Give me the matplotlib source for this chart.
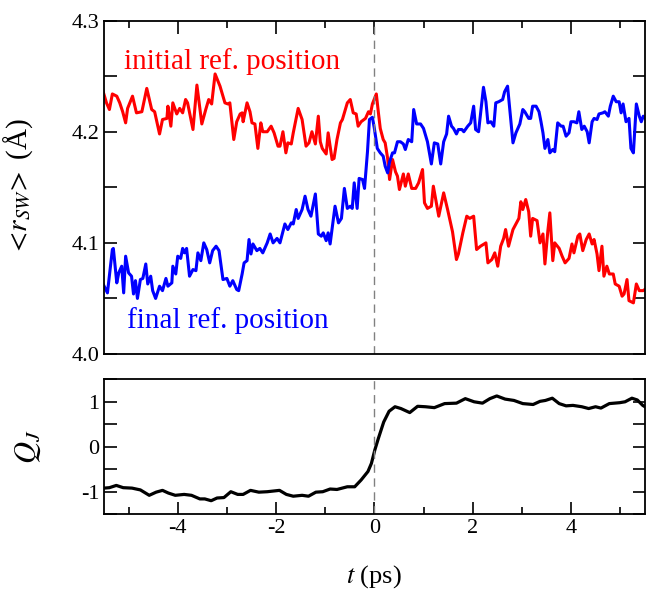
import matplotlib.pyplot as plt
from matplotlib.ticker import MultipleLocator

plt.rcParams['font.family'] = ['Liberation Serif', 'DejaVu Serif']
plt.rcParams['mathtext.fontset'] = 'stix'
plt.rcParams['axes.unicode_minus'] = False

# red curve: initial reference position
t_red = [-5.53, -5.45, -5.39, -5.33, -5.24, -5.18, -5.12, -5.06, -5.02, -4.92,
         -4.84, -4.73, -4.63, -4.53, -4.47, -4.37, -4.31, -4.22, -4.20, -4.14,
         -4.10, -4.02, -3.96, -3.90, -3.84, -3.80, -3.69, -3.61, -3.51, -3.43,
         -3.37, -3.31, -3.24, -3.14, -3.04, -2.98, -2.94, -2.86, -2.80, -2.73,
         -2.69, -2.67, -2.59, -2.53, -2.49, -2.43, -2.37, -2.31, -2.27, -2.18,
         -2.10, -2.04, -1.96, -1.92, -1.86, -1.80, -1.76, -1.69, -1.65, -1.55,
         -1.47, -1.39, -1.33, -1.27, -1.20, -1.14, -1.10, -1.06, -0.98, -0.94,
         -0.86, -0.82, -0.76, -0.69, -0.65, -0.55, -0.49, -0.43, -0.37, -0.33,
         -0.27, -0.18, -0.12, -0.08, -0.04, 0.04, 0.08, 0.12, 0.18, 0.22,
         0.27, 0.31, 0.37, 0.43, 0.47, 0.51, 0.59, 0.63, 0.69, 0.76,
         0.84, 0.90, 0.98, 1.02, 1.08, 1.16, 1.20, 1.31, 1.41, 1.49,
         1.59, 1.67, 1.71, 1.80, 1.88, 1.94, 2.02, 2.08, 2.16, 2.27,
         2.31, 2.39, 2.45, 2.51, 2.57, 2.63, 2.67, 2.73, 2.82, 2.88,
         2.94, 2.98, 3.02, 3.08, 3.14, 3.18, 3.22, 3.31, 3.37, 3.43,
         3.47, 3.53, 3.57, 3.63, 3.67, 3.76, 3.82, 3.88, 3.96, 4.02,
         4.06, 4.14, 4.18, 4.24, 4.31, 4.37, 4.43, 4.47, 4.53, 4.57,
         4.63, 4.67, 4.73, 4.78, 4.86, 4.90, 4.98, 5.04, 5.08, 5.14,
         5.18, 5.27, 5.33, 5.39, 5.47, 5.53]
r_red = [4.238, 4.226, 4.220, 4.234, 4.232, 4.226, 4.218, 4.208, 4.221, 4.232,
         4.217, 4.218, 4.239, 4.220, 4.218, 4.198, 4.211, 4.212, 4.223, 4.205,
         4.226, 4.216, 4.221, 4.217, 4.229, 4.226, 4.202, 4.242, 4.207, 4.220,
         4.229, 4.225, 4.252, 4.241, 4.226, 4.225, 4.226, 4.193, 4.209, 4.216,
         4.217, 4.209, 4.226, 4.218, 4.208, 4.207, 4.185, 4.208, 4.200, 4.200,
         4.205, 4.199, 4.187, 4.187, 4.200, 4.181, 4.190, 4.189, 4.199, 4.221,
         4.211, 4.187, 4.190, 4.200, 4.189, 4.214, 4.191, 4.185, 4.180, 4.199,
         4.175, 4.176, 4.193, 4.208, 4.211, 4.226, 4.229, 4.217, 4.216, 4.205,
         4.209, 4.212, 4.218, 4.216, 4.225, 4.234, 4.218, 4.203, 4.193, 4.190,
         4.176, 4.157, 4.175, 4.164, 4.160, 4.148, 4.162, 4.151, 4.162, 4.149,
         4.149, 4.154, 4.166, 4.136, 4.131, 4.133, 4.151, 4.124, 4.145, 4.130,
         4.110, 4.085, 4.090, 4.109, 4.124, 4.122, 4.124, 4.094, 4.097, 4.100,
         4.082, 4.085, 4.091, 4.079, 4.097, 4.104, 4.112, 4.097, 4.112, 4.117,
         4.122, 4.137, 4.130, 4.139, 4.128, 4.106, 4.122, 4.120, 4.100, 4.108,
         4.081, 4.111, 4.127, 4.084, 4.100, 4.095, 4.088, 4.082, 4.086, 4.099,
         4.091, 4.106, 4.108, 4.093, 4.103, 4.108, 4.099, 4.103, 4.090, 4.075,
         4.097, 4.070, 4.079, 4.072, 4.072, 4.063, 4.061, 4.052, 4.054, 4.067,
         4.048, 4.046, 4.063, 4.057, 4.057, 4.059]

# blue curve: final reference position
t_blue = [-5.53, -5.43, -5.33, -5.31, -5.24, -5.20, -5.14, -5.10, -5.06, -5.00,
          -4.94, -4.90, -4.86, -4.82, -4.76, -4.71, -4.65, -4.61, -4.55, -4.51,
          -4.45, -4.37, -4.31, -4.24, -4.20, -4.12, -4.10, -4.04, -4.00, -3.94,
          -3.90, -3.86, -3.82, -3.76, -3.69, -3.63, -3.59, -3.53, -3.47, -3.41,
          -3.35, -3.29, -3.22, -3.16, -3.08, -3.00, -2.94, -2.88, -2.80, -2.76,
          -2.69, -2.65, -2.59, -2.55, -2.51, -2.47, -2.39, -2.33, -2.27, -2.18,
          -2.12, -2.06, -1.98, -1.92, -1.82, -1.76, -1.69, -1.65, -1.59, -1.55,
          -1.47, -1.41, -1.35, -1.29, -1.20, -1.14, -1.08, -1.04, -0.98, -0.94,
          -0.90, -0.80, -0.73, -0.67, -0.61, -0.55, -0.49, -0.45, -0.41, -0.35,
          -0.31, -0.24, -0.20, -0.14, -0.10, -0.04, 0.00, 0.06, 0.12, 0.18,
          0.22, 0.27, 0.31, 0.37, 0.41, 0.47, 0.53, 0.59, 0.63, 0.69,
          0.76, 0.80, 0.86, 0.94, 1.00, 1.08, 1.16, 1.22, 1.29, 1.35,
          1.41, 1.47, 1.51, 1.57, 1.61, 1.67, 1.71, 1.78, 1.82, 1.90,
          1.96, 2.02, 2.06, 2.12, 2.22, 2.27, 2.31, 2.37, 2.43, 2.47,
          2.53, 2.61, 2.65, 2.71, 2.76, 2.82, 2.88, 2.96, 3.02, 3.06,
          3.14, 3.18, 3.22, 3.29, 3.35, 3.39, 3.43, 3.47, 3.53, 3.57,
          3.63, 3.67, 3.73, 3.80, 3.84, 3.90, 3.96, 4.00, 4.06, 4.12,
          4.16, 4.22, 4.27, 4.33, 4.37, 4.43, 4.47, 4.53, 4.57, 4.65,
          4.69, 4.76, 4.80, 4.86, 4.92, 4.98, 5.02, 5.06, 5.12, 5.18,
          5.22, 5.27, 5.33, 5.39, 5.43, 5.47, 5.53]
r_blue = [4.064, 4.055, 4.094, 4.095, 4.064, 4.073, 4.079, 4.055, 4.088, 4.073,
          4.070, 4.054, 4.066, 4.050, 4.067, 4.068, 4.081, 4.063, 4.070, 4.057,
          4.050, 4.061, 4.057, 4.068, 4.061, 4.064, 4.079, 4.072, 4.088, 4.086,
          4.095, 4.091, 4.095, 4.070, 4.076, 4.075, 4.091, 4.084, 4.100, 4.094,
          4.082, 4.093, 4.097, 4.093, 4.067, 4.068, 4.061, 4.066, 4.058, 4.057,
          4.072, 4.082, 4.084, 4.103, 4.090, 4.099, 4.093, 4.095, 4.091, 4.100,
          4.108, 4.100, 4.104, 4.100, 4.117, 4.112, 4.118, 4.117, 4.130, 4.122,
          4.130, 4.142, 4.130, 4.124, 4.144, 4.108, 4.106, 4.109, 4.102, 4.109,
          4.099, 4.133, 4.118, 4.122, 4.149, 4.131, 4.133, 4.131, 4.154, 4.131,
          4.158, 4.157, 4.149, 4.182, 4.211, 4.213, 4.203, 4.185, 4.181, 4.178,
          4.169, 4.163, 4.173, 4.181, 4.181, 4.191, 4.191, 4.189, 4.184, 4.193,
          4.191, 4.220, 4.207, 4.207, 4.203, 4.191, 4.171, 4.190, 4.189, 4.171,
          4.191, 4.198, 4.214, 4.205, 4.203, 4.198, 4.202, 4.202, 4.200, 4.205,
          4.208, 4.223, 4.202, 4.200, 4.240, 4.227, 4.208, 4.209, 4.205, 4.226,
          4.227, 4.229, 4.236, 4.241, 4.218, 4.190, 4.199, 4.207, 4.220, 4.218,
          4.212, 4.212, 4.223, 4.223, 4.218, 4.209, 4.199, 4.185, 4.193, 4.181,
          4.184, 4.182, 4.208, 4.205, 4.205, 4.196, 4.199, 4.209, 4.209, 4.208,
          4.218, 4.202, 4.205, 4.200, 4.190, 4.209, 4.212, 4.211, 4.216, 4.217,
          4.218, 4.214, 4.223, 4.232, 4.227, 4.227, 4.217, 4.225, 4.209, 4.212,
          4.185, 4.181, 4.225, 4.214, 4.209, 4.214, 4.211]

# Q_J curve
t_q = [-5.50, -5.39, -5.25, -5.11, -4.93, -4.76, -4.58, -4.44, -4.31, -4.19,
       -4.05, -3.87, -3.72, -3.55, -3.45, -3.32, -3.20, -3.06, -2.92, -2.78,
       -2.67, -2.52, -2.35, -2.18, -1.93, -1.79, -1.65, -1.47, -1.34, -1.19,
       -1.05, -0.90, -0.76, -0.55, -0.40, -0.27, -0.13, -0.06, 0.01, 0.08,
       0.19, 0.30, 0.42, 0.54, 0.72, 0.88, 1.04, 1.22, 1.43, 1.67,
       1.85, 2.03, 2.20, 2.35, 2.49, 2.66, 2.84, 3.02, 3.23, 3.37,
       3.48, 3.62, 3.76, 3.90, 4.04, 4.22, 4.36, 4.50, 4.61, 4.78,
       4.99, 5.10, 5.24, 5.35, 5.46, 5.52]
q = [-0.92, -0.91, -0.86, -0.91, -0.92, -0.96, -1.08, -1.01, -0.97, -1.03,
     -1.08, -1.06, -1.08, -1.16, -1.16, -1.20, -1.14, -1.13, -1.00, -1.06,
     -1.06, -0.97, -1.01, -1.00, -0.97, -1.06, -1.10, -1.08, -1.10, -1.01,
     -1.00, -0.94, -0.95, -0.89, -0.89, -0.74, -0.55, -0.37, -0.07, 0.18,
     0.55, 0.79, 0.89, 0.85, 0.76, 0.90, 0.89, 0.87, 0.96, 0.97,
     1.07, 1.00, 0.97, 1.07, 1.13, 1.06, 1.03, 0.96, 0.94, 1.01,
     1.03, 1.08, 0.96, 0.91, 0.92, 0.89, 0.85, 0.89, 0.86, 0.96,
     0.98, 1.00, 1.08, 1.04, 0.92, 0.88]

fig = plt.figure(figsize=(6.46, 5.89), dpi=100)
ax1 = fig.add_axes([0.161, 0.399, 0.837, 0.566])
ax2 = fig.add_axes([0.161, 0.127, 0.837, 0.229])

ax1.plot(t_red, r_red, color='red', lw=2.2)
ax1.plot(t_blue, r_blue, color='blue', lw=2.2)
ax2.plot(t_q, q, color='black', lw=2.3)

for ax in (ax1, ax2):
    ax.axvline(0, color='gray', lw=1.0, dashes=(6, 4))
    ax.set_xlim(-5.5, 5.5)
    ax.xaxis.set_major_locator(MultipleLocator(2))
    ax.xaxis.set_minor_locator(MultipleLocator(1))
    ax.tick_params(which='both', direction='in', labelsize=16, width=1.2)
    ax.tick_params(which='major', length=9)
    ax.tick_params(which='minor', length=5)
    for s in ax.spines.values():
        s.set_linewidth(1.3)

ax1.set_ylim(4.0, 4.3)
ax1.yaxis.set_major_locator(MultipleLocator(0.1))
ax1.yaxis.set_minor_locator(MultipleLocator(0.05))
ax1.yaxis.set_major_formatter(plt.FormatStrFormatter('%.1f'))
ax1.tick_params(which='both', top=True, bottom=False, labelbottom=False,
                left=True, right=True)
ax1.tick_params(axis='y', which='minor', length=9)
ax1.set_ylabel(r'$<\!r_{SW}\!>$ (Å)', fontsize=21)

ax2.set_ylim(-1.5, 1.5)
ax2.yaxis.set_major_locator(MultipleLocator(1))
ax2.yaxis.set_minor_locator(MultipleLocator(0.5))
ax2.tick_params(which='both', top=False, bottom=True, left=True, right=True)
ax2.tick_params(axis='y', which='minor', length=9)
ax2.set_ylabel(r'$Q_J$', fontsize=22)
ax2.set_xlabel(r'$t$ (ps)', fontsize=19, labelpad=18)

ax1.text(-2.9, 4.263, 'initial ref. position', color='red', fontsize=21,
         ha='center', va='center')
ax1.text(-2.98, 4.030, 'final ref. position', color='blue', fontsize=21,
         ha='center', va='center')

ax1.yaxis.set_label_coords(-0.128, 0.5)
ax2.yaxis.set_label_coords(-0.112, 0.5)
fig.savefig('out.png', dpi=100)
